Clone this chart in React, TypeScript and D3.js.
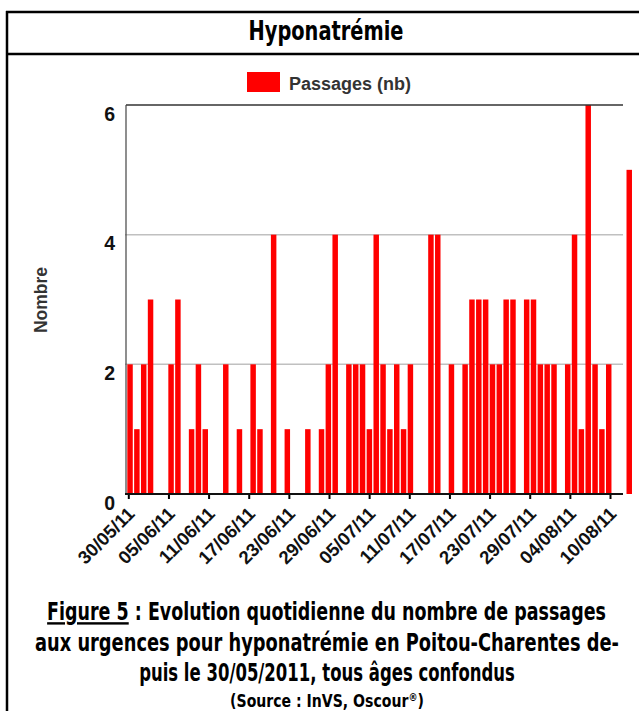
import React, { useRef, useEffect } from 'react';
import * as d3 from 'd3';

// daily counts starting 30/05/2011
const startDay = '2011-05-30';
const counts = [
  2, 1, 2, 3, 0, 0, 2, 3, 0, 1, 2, 1, 0, 0, 2, 0, 1, 0, 2, 1,
  0, 4, 0, 1, 0, 0, 1, 0, 1, 2, 4, 0, 2, 2, 2, 1, 4, 2, 1, 2,
  1, 2, 0, 0, 4, 4, 0, 2, 0, 2, 3, 3, 3, 2, 2, 3, 3, 0, 3, 3,
  2, 2, 2, 0, 2, 4, 1, 6, 2, 1, 2, 0, 0, 5,
];
const tickLabels = [
  '30/05/11', '05/06/11', '11/06/11', '17/06/11', '23/06/11', '29/06/11', '05/07/11',
  '11/07/11', '17/07/11', '23/07/11', '29/07/11', '04/08/11', '10/08/11',
];
const yTicks = [0, 2, 4, 6];
const captionLines = [
  'aux urgences pour hyponatrémie en Poitou-Charentes de-',
  'puis le 30/05/2011, tous âges confondus',
];
const captionWidths = [584, 376];

const axisFont = "'Liberation Sans', Arial, sans-serif";
const condFont = "'Liberation Sans Narrow', 'DejaVu Sans Condensed', 'Roboto Condensed', 'Liberation Sans', sans-serif";

// squeeze a text horizontally so that it fills a given width
function fitWidth(sel: d3.Selection<SVGTextElement, any, any, any>, cx: number, cy: number, w: number) {
  const node = sel.node();
  if (!node) return;
  const len = node.getComputedTextLength() || w;
  sel.attr('x', 0).attr('y', 0).attr('transform', `translate(${cx},${cy}) scale(${w / len},1)`);
}

const App: React.FC = () => {
  const ref = useRef<SVGSVGElement | null>(null);

  useEffect(() => {
    if (!ref.current) return;
    const svg = d3.select(ref.current);
    svg.selectAll('*').remove();

    const width = 639;
    const height = 711;
    const parse = d3.timeParse('%Y-%m-%d');
    const parseTick = d3.timeParse('%d/%m/%y');
    const start = parse(startDay) as Date;
    const days = counts.map((c, i) => ({ date: d3.timeDay.offset(start, i), count: c }));

    // frame
    const frame = svg.append('g').attr('stroke', '#000').attr('stroke-width', 2.5).attr('fill', 'none');
    frame.append('line').attr('x1', 7).attr('x2', 7).attr('y1', 11).attr('y2', height + 5);
    frame.append('line').attr('x1', 6).attr('x2', width + 5).attr('y1', 12).attr('y2', 12);
    frame.append('line').attr('x1', 6).attr('x2', width + 5).attr('y1', 54).attr('y2', 54);

    const title = svg.append('text')
      .attr('text-anchor', 'middle')
      .attr('font-family', condFont).attr('font-weight', 'bold').attr('font-size', 26)
      .text('Hyponatrémie');
    fitWidth(title, 326, 40, 155);

    // scales
    const y = d3.scaleLinear().domain([0, 6]).range([494, 105]);
    const xTick = d3.scaleTime()
      .domain([parseTick(tickLabels[0]) as Date, parseTick(tickLabels[tickLabels.length - 1]) as Date])
      .range([128.3, 610]);
    const xBar = d3.scaleBand<string>()
      .domain(days.map(d => d.date.toISOString()))
      .range([127.3, 127.3 + counts.length * 6.82])
      .paddingInner(0.2)
      .paddingOuter(0)
      .align(0);

    const plotLeft = 126;
    const plotRight = 623;

    // gridlines
    svg.append('g')
      .selectAll('line')
      .data(yTicks.filter(t => t > 0 && t < 6))
      .join('line')
      .attr('x1', plotLeft - 1).attr('x2', plotRight)
      .attr('y1', d => y(d)).attr('y2', d => y(d))
      .attr('stroke', '#c0c0c0').attr('stroke-width', 1.5);

    // bars
    svg.append('g')
      .selectAll('rect')
      .data(days.filter(d => d.count > 0))
      .join('rect')
      .attr('x', d => xBar(d.date.toISOString()) || 0)
      .attr('y', d => y(d.count))
      .attr('width', xBar.bandwidth())
      .attr('height', d => y(0) - y(d.count))
      .attr('fill', '#ff0000');

    // top border and y axis line
    svg.append('line')
      .attr('x1', plotLeft).attr('x2', plotRight)
      .attr('y1', y(6)).attr('y2', y(6))
      .attr('stroke', '#333').attr('stroke-width', 1.5);
    svg.append('line')
      .attr('x1', plotLeft).attr('x2', plotLeft)
      .attr('y1', y(6)).attr('y2', y(0))
      .attr('stroke', '#444').attr('stroke-width', 1.2);

    // y labels
    svg.append('g')
      .selectAll('text')
      .data(yTicks)
      .join('text')
      .attr('x', 115)
      .attr('y', d => y(d) + 15.5)
      .attr('text-anchor', 'end')
      .attr('font-family', axisFont).attr('font-weight', 'bold').attr('font-size', 19.5)
      .attr('fill', '#111')
      .text(d => d);

    // x axis
    const xAxis = svg.append('g')
      .attr('transform', `translate(0,${y(0)})`)
      .call(
        d3.axisBottom(xTick)
          .tickValues(tickLabels.map(t => parseTick(t) as Date))
          .tickFormat(d3.timeFormat('%d/%m/%y') as any)
          .tickSize(5)
          .tickSizeOuter(0)
      );
    xAxis.select('.domain').remove();
    xAxis.selectAll('.tick line').attr('stroke', '#000').attr('stroke-width', 2);
    xAxis.selectAll('.tick text')
      .attr('font-family', axisFont).attr('font-weight', 'bold').attr('font-size', 18.5)
      .attr('fill', '#111')
      .attr('text-anchor', 'end')
      .attr('dy', null)
      .attr('y', 0)
      .attr('transform', 'translate(7,21) rotate(-45)');
    svg.append('line')
      .attr('x1', plotLeft - 1).attr('x2', plotRight)
      .attr('y1', y(0)).attr('y2', y(0))
      .attr('stroke', '#111').attr('stroke-width', 2);

    // y title
    svg.append('text')
      .attr('transform', 'translate(47,300) rotate(-90)')
      .attr('text-anchor', 'middle')
      .attr('font-family', axisFont).attr('font-weight', 'bold').attr('font-size', 17.5)
      .attr('fill', '#333')
      .text('Nombre');

    // legend
    svg.append('rect')
      .attr('x', 247).attr('y', 72).attr('width', 33).attr('height', 20)
      .attr('fill', '#ff0000');
    svg.append('text')
      .attr('x', 289).attr('y', 90)
      .attr('font-family', axisFont).attr('font-weight', 'bold').attr('font-size', 18)
      .attr('fill', '#333')
      .text('Passages (nb)');

    // caption
    const cap1 = svg.append('text')
      .attr('text-anchor', 'middle')
      .attr('font-family', condFont).attr('font-weight', 'bold').attr('font-size', 24);
    cap1.append('tspan').style('text-decoration', 'underline').text('Figure 5');
    cap1.append('tspan').text(' : Evolution quotidienne du nombre de passages');
    fitWidth(cap1, 326.5, 620, 559);

    captionLines.forEach((line, i) => {
      const t = svg.append('text')
        .attr('text-anchor', 'middle')
        .attr('font-family', condFont).attr('font-weight', 'bold').attr('font-size', 24)
        .text(line);
      fitWidth(t, 327, 651 + i * 30, captionWidths[i]);
    });

    const src = svg.append('text')
      .attr('text-anchor', 'middle')
      .attr('font-family', condFont).attr('font-weight', 'bold').attr('font-size', 17);
    src.append('tspan').text('(Source : InVS, Oscour');
    src.append('tspan').attr('dy', -6).attr('font-size', 11).text('®');
    src.append('tspan').attr('dy', 6).text(')');
    fitWidth(src, 327, 707, 194);
  }, []);

  return (
    <svg
      ref={ref}
      width={639}
      height={711}
      style={{ position: 'absolute', left: 0, top: 0, display: 'block', background: '#fff' }}
    />
  );
};

export default App;
